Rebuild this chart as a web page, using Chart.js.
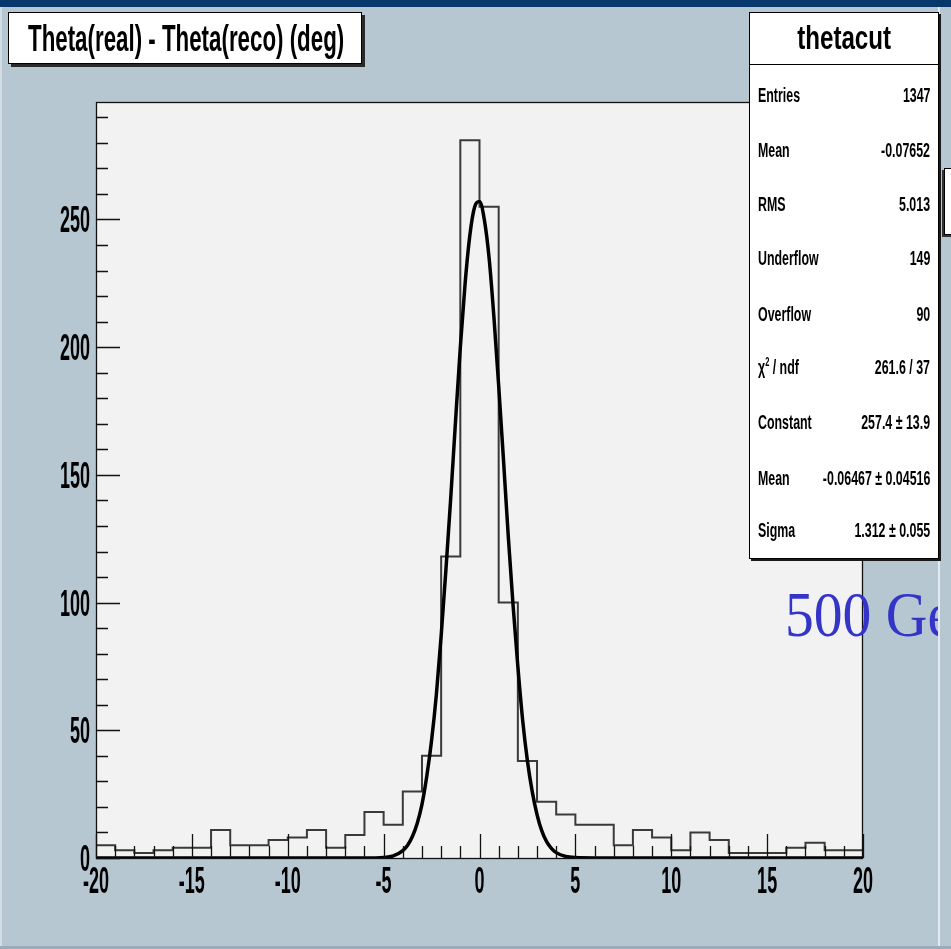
<!DOCTYPE html>
<html>
<head>
<meta charset="utf-8">
<script src="https://cdn.jsdelivr.net/npm/chart.js@4.4.1/dist/chart.umd.min.js"></script>
<style>
html,body{margin:0;padding:0;width:951px;height:949px;overflow:hidden;background:#b6c7d2;}
#page{position:absolute;left:0;top:0;width:938px;height:946px;overflow:hidden;background:#b6c7d2;}
#leftstrip{position:absolute;left:0;top:0;width:2px;height:949px;background:#d3dde4;}
#rline{position:absolute;left:938px;top:0;width:2px;height:949px;background:#e4ebf0;}
#bline{position:absolute;left:0;top:946px;width:951px;height:3px;background:#9cadb9;}
#topband{position:absolute;left:0;top:0;width:951px;height:7px;background:#08386b;z-index:5;}
canvas{position:absolute;left:0;top:0;}
.box{position:absolute;box-sizing:border-box;background:#fff;border:1px solid #000;}
.bold{font-family:"Liberation Sans",Arial,sans-serif;font-weight:bold;color:#000;white-space:nowrap;}
#title{left:8px;top:12px;width:354px;height:52px;box-shadow:3px 3px 0 #2a2a2a;}
#title span{position:absolute;left:19px;top:7.5px;font-size:36px;line-height:36px;display:inline-block;transform:scaleX(0.62);transform-origin:0 0;}
#stats{left:749px;top:12px;width:190px;height:547px;box-shadow:2px 2px 0 #1a1a1a;z-index:3;}
#stats .st{position:absolute;left:0;right:0;top:7px;text-align:center;font-size:34px;line-height:34px;}
#stats .st span{display:inline-block;transform:scaleX(0.71);transform-origin:50% 0;}
#stats .sep{position:absolute;left:0;right:0;top:51px;height:1px;background:#000;}
.row{position:absolute;left:8px;right:8px;height:20px;font-size:20px;line-height:20px;}
.row .l{position:absolute;left:0;top:0;display:inline-block;transform:scaleX(0.62);transform-origin:0 0;}
.row .v{position:absolute;right:0;top:0;display:inline-block;transform:scaleX(0.62);transform-origin:100% 0;}
.row sup{font-size:12px;line-height:0;vertical-align:8px;}
#behind{left:944px;top:168px;width:30px;height:67px;box-shadow:-2px 2px 0 #333;z-index:2;}
#gev{position:absolute;left:785px;top:583px;font-family:"Liberation Serif","Times New Roman",serif;font-size:64px;line-height:64px;color:#3434c8;white-space:nowrap;z-index:4;display:inline-block;transform:scaleX(0.9);transform-origin:0 0;}
</style>
</head>
<body>
<div id="page">
  <canvas id="c" width="951" height="949"></canvas>
  <div id="title" class="box bold"><span>Theta(real) - Theta(reco) (deg)</span></div>
  <div id="gev">500 GeV</div>
  <div id="leftstrip"></div>
</div>
<div id="rline"></div>
<div id="behind" class="box"></div>
<div id="stats" class="box bold">
  <div class="st"><span>thetacut</span></div>
  <div class="sep"></div>
</div>
<div id="bline"></div>
<div id="topband"></div>
<script>
// ---- data ----
const binLow = [-20,-19,-18,-17,-16,-15,-14,-13,-12,-11,-10,-9,-8,-7,-6,-5,-4,-3,-2,-1,
                0,1,2,3,4,5,6,7,8,9,10,11,12,13,14,15,16,17,18,19];
const counts = [5,3,2,3,4,4,11,5,5,7,8,11,4,9,18,13,26,40,118,281,
                255,100,38,22,17,13,13,5,11,8,3,10,7,2,2,2,4,6,3,3];
const binWidth = 1;
const fitX = [-20,-6,-5,-4.5,-4,-3.75,-3.5,-3.25,-3,-2.75,-2.5,-2.25,-2,-1.75,-1.5,-1.25,-1,-0.75,-0.5,-0.25,
              0,0.25,0.5,0.75,1,1.25,1.5,1.75,2,2.25,2.5,2.75,3,3.25,3.5,3.75,4,4.5,5,6,20];
const fitY = [0,0,0.2,0.8,2.9,5,8.4,13.5,21,32,46,64,87,113,141,171,200,225,244,255,
              257,250,235,212,185,156,126,99,75,54,38,26,17,10.6,6.4,3.8,2.1,0.6,0.15,0,0];
const xTickLabels = ['-20','-15','-10','-5','0','5','10','15','20'];
const yTickLabels = ['0','50','100','150','200','250'];
const statLabels = ['Entries','Mean','RMS','Underflow','Overflow','χ<sup>2</sup> / ndf','Constant','Mean','Sigma'];
const statValues = ['1347','-0.07652','5.013','149','90','261.6 / 37','257.4 ± 13.9','-0.06467 ± 0.04516','1.312 ± 0.055'];

// ---- stats box rows ----
const rowCenters = [95,150,204,258,314,367,422,478,530];
const stats = document.getElementById('stats');
statLabels.forEach((lab, i) => {
  const r = document.createElement('div');
  r.className = 'row';
  r.style.top = (rowCenters[i] + 7.2 - 17 - 13) + 'px';
  r.innerHTML = '<span class="l">' + lab + '</span><span class="v">' + statValues[i] + '</span>';
  stats.appendChild(r);
});

const histPoints = counts.map((c, i) => ({x: binLow[i], y: c}));
histPoints.push({x: binLow[binLow.length - 1] + binWidth, y: counts[counts.length - 1]});
const fitPoints = fitX.map((x, i) => ({x: x, y: fitY[i]}));

const X_MIN = -20, X_MAX = 20, Y_MAX = 296;

const rootFrame = {
  id: 'rootFrame',
  beforeDatasetsDraw(chart) {
    const {ctx, chartArea: a} = chart;
    ctx.save();
    ctx.fillStyle = '#f2f2f2';
    ctx.fillRect(a.left, a.top, a.right - a.left, a.bottom - a.top);
    ctx.restore();
  },
  afterDatasetsDraw(chart) {
    const {ctx, chartArea: a, scales: {x, y}} = chart;
    ctx.save();
    ctx.strokeStyle = '#111';
    ctx.lineWidth = 1.3;
    ctx.strokeRect(a.left + 0.5, a.top + 0.5, a.right - a.left - 1, a.bottom - a.top);
    ctx.beginPath();
    for (let v = 0; v <= Y_MAX; v += 10) {
      const py = Math.round(y.getPixelForValue(v)) + 0.5;
      const len = (v % 50 === 0) ? 24 : 12;
      ctx.moveTo(a.left, py); ctx.lineTo(a.left + len, py);
    }
    for (let v = X_MIN; v <= X_MAX; v += 1) {
      const px = Math.round(x.getPixelForValue(v)) + 0.5;
      const len = (v % 5 === 0) ? 24 : 12;
      ctx.moveTo(px, a.bottom); ctx.lineTo(px, a.bottom - len);
    }
    ctx.stroke();
    // tick labels (condensed)
    ctx.fillStyle = '#000';
    ctx.font = 'bold 36px "Liberation Sans", Arial, sans-serif';
    ctx.textBaseline = 'alphabetic';
    yTickLabels.forEach(l => {
      const py = y.getPixelForValue(Number(l));
      ctx.save(); ctx.translate(90, py + 13); ctx.scale(0.5, 1);
      ctx.textAlign = 'right'; ctx.fillText(l, 0, 0); ctx.restore();
    });
    xTickLabels.forEach(l => {
      const px = x.getPixelForValue(Number(l));
      ctx.save(); ctx.translate(px, 893); ctx.scale(0.5, 1);
      ctx.textAlign = 'center'; ctx.fillText(l, 0, 0); ctx.restore();
    });
    ctx.restore();
  }
};

new Chart(document.getElementById('c'), {
  type: 'line',
  data: {
    datasets: [
      {data: fitPoints, borderColor: '#000', borderWidth: 3.5, pointRadius: 0, fill: false,
       cubicInterpolationMode: 'monotone'},
      {data: histPoints, stepped: 'before', borderColor: '#3a3a3a', borderWidth: 2, pointRadius: 0, fill: false}
    ]
  },
  options: {
    responsive: false, animation: false, events: [],
    layout: {padding: {left: 96, right: 88, top: 102, bottom: 91}},
    plugins: {legend: {display: false}, tooltip: {enabled: false}},
    scales: {
      x: {type: 'linear', min: X_MIN, max: X_MAX, display: false},
      y: {type: 'linear', min: 0, max: Y_MAX, display: false}
    }
  },
  plugins: [rootFrame]
});
</script>
</body>
</html>
